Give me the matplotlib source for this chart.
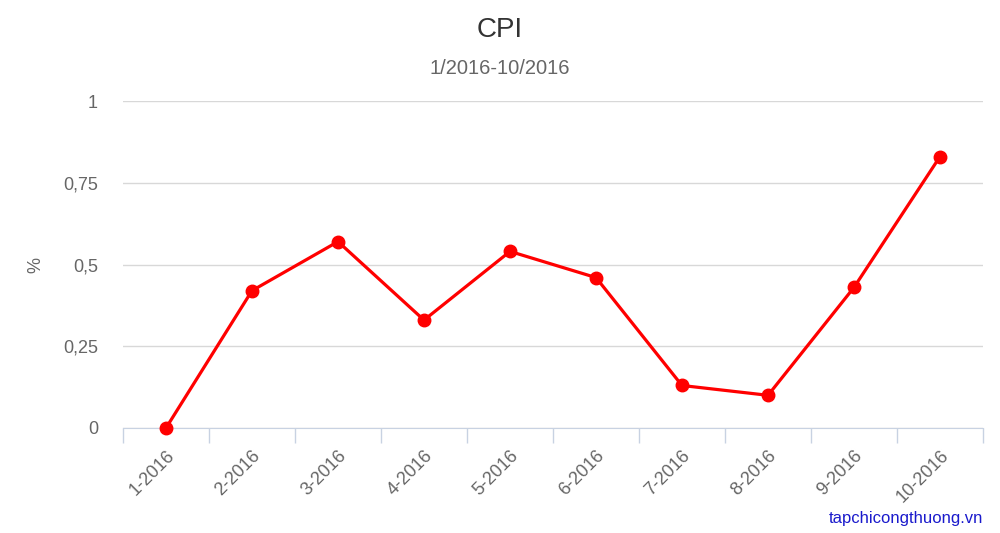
import matplotlib.pyplot as plt
import numpy as np

plt.rcParams['font.family'] = ['Liberation Sans', 'DejaVu Sans']

months = ["1-2016", "2-2016", "3-2016", "4-2016", "5-2016",
          "6-2016", "7-2016", "8-2016", "9-2016", "10-2016"]
cpi = [0, 0.42, 0.57, 0.33, 0.54, 0.46, 0.13, 0.10, 0.43, 0.83]
y_ticks = [0, 0.25, 0.5, 0.75, 1]
y_labels = ["0", "0,25", "0,5", "0,75", "1"]

fig = plt.figure(figsize=(10, 5.33), dpi=100)
ax = fig.add_axes([0.123, 1 - 428 / 533, 0.86, 327 / 533])

x = np.arange(len(months))
ax.plot(x, cpi, color="#ff0000", lw=2.3, marker="o", ms=9, zorder=3, clip_on=False)

ax.set_xlim(-0.5, len(months) - 0.5)
ax.set_ylim(0, 1)

# grid
ax.set_yticks(y_ticks)
ax.set_yticklabels(y_labels, fontsize=13, color="#666666")
ax.yaxis.grid(True, color="#d8d8d8", lw=1)
ax.tick_params(axis="y", length=0, pad=18)

# category boundaries as ticks, labels at centers
ax.set_xticks(np.arange(-0.5, len(months)), minor=False)
ax.set_xticklabels([])
ax.tick_params(axis="x", which="major", length=11, width=1, color="#c8d2e2")
ax.set_xticks(x, minor=True)
ax.set_xticklabels(months, minor=True, rotation=45, ha="right", va="top",
                   rotation_mode="anchor", fontsize=13, color="#666666")
ax.tick_params(axis="x", which="minor", length=0, pad=14)

for s in ["top", "right", "left"]:
    ax.spines[s].set_visible(False)
ax.spines["bottom"].set_color("#c8d2e2")
ax.spines["bottom"].set_zorder(2)
ax.set_axisbelow(True)

fig.text(0.036, 1 - 265 / 533, "%", ha="center", va="center", rotation=90,
         fontsize=13, color="#666666")

fig.text(0.5, 1 - 30 / 533, "CPI", ha="center", va="center", fontsize=20, color="#333333")
fig.text(0.5, 1 - 69 / 533, "1/2016-10/2016", ha="center", va="center", fontsize=14.5, color="#666666")
fig.text(0.983, 1 - 519 / 533, "tapchicongthuong.vn", ha="right", va="center",
         fontsize=12, color="#1a1acc")

fig.savefig("out.png", dpi=100)
